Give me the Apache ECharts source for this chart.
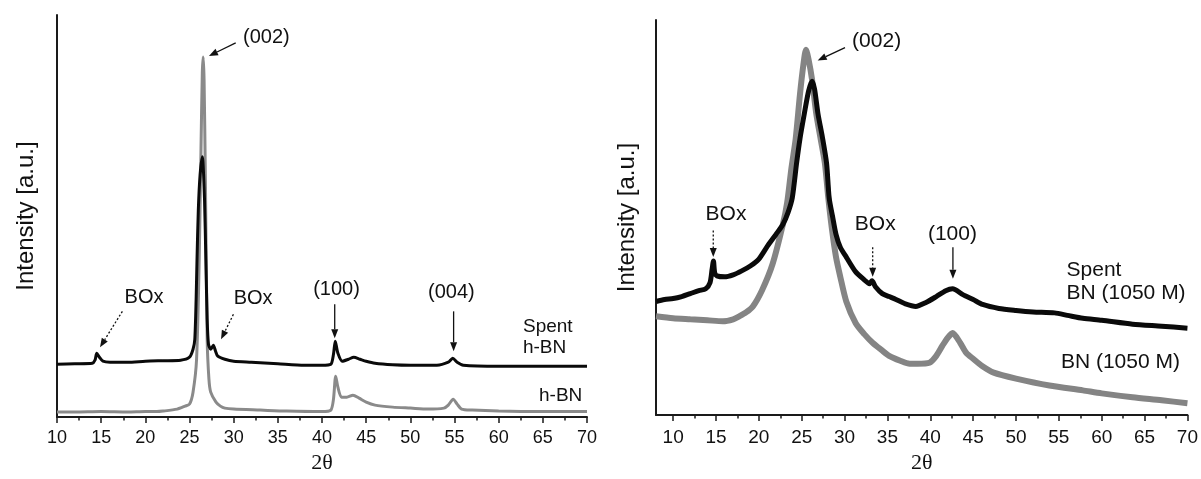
<!DOCTYPE html>
<html><head><meta charset="utf-8">
<script src="https://cdn.jsdelivr.net/npm/echarts@6/dist/echarts.min.js"></script>
<style>html,body{margin:0;padding:0;background:#fff}#c{width:1201px;height:479px}</style>
</head><body><div id="c"></div>
<script>
// ---------- Left panel: h-BN / Spent h-BN ----------
const hbnX = [10,12,15,18,20,21.3,22,23.6,24.5,25.0,25.4,25.8,26.1,26.3,26.45,26.55,26.65,26.8,27.0,27.2,27.4,28.0,28.5,29.0,30,33,36,40,41,41.3,41.55,41.8,42.2,42.8,43.5,44.2,45,46,48,50,52,53.8,54.3,54.85,55.3,55.8,57,60,65,70];
const hbnY = [5,5,5.5,5,5.5,5.5,6,8,11,13,25,58,158,268,345,361,338,238,78,38,25,15,11,9,8,7,6,5.5,7,18,41,30,20,20,22,19,15,12,10,9,8,9,12,18,13,8,7,6,5.5,5.5];
const spentHbnX = [10,12,14,14.3,14.5,14.8,15.2,16,18,20,22,24,25,25.4,25.6,25.75,25.85,26.0,26.2,26.45,26.7,26.85,27.0,27.15,27.4,27.7,27.95,28.2,29,30,32,35,38,40,41,41.3,41.5,41.8,42.3,43,43.6,44.3,45,46,48,50,53,54.3,54.8,55.3,56,60,65,70];
const spentHbnY = [53,53.5,54,57,64,60,56,55,55,56,56.5,57,60,68,78,118,158,208,243,261,218,158,98,73,68,72,66,61,58,56,55,53.5,52,52,53,63,76,64,56,58,60,58,56,54,52.5,52,52,55,59,55,52,51,51,51];

// ---------- Right panel: BN (1050 M) / Spent BN (1050 M) ----------
const bnX = [8,10,12,14,15.8,17,17.7,18.5,19.3,20.4,21.6,22.8,23.3,23.8,24.3,24.8,25.2,25.5,25.8,26.2,26.7,27.2,27.7,28.1,28.5,29.0,29.5,30.2,31.3,32.3,33.3,34.3,35.2,36.5,37.6,38.5,39.9,40.7,41.4,42.0,42.6,43.5,44.2,45.0,46,47.4,50,53.9,57.8,60,63.6,67,70];
const bnY = [100,98,97,96,95,97,100,104,110,127,153,193,215,250,280,325,355,370,360,340,305,280,255,220,190,160,140,115,93,82,73,66,60,55,52,52,53,60,70,78,83,73,63,57,50,43,37,30,25,22,18,15,12];
const spentBnX = [8,9,10,11,12,13,13.8,14.3,14.55,14.7,14.85,15.1,16,17,18,19,20,21,22,22.8,23.4,23.9,24.4,24.8,25.3,25.8,26.2,26.5,26.9,27.4,27.9,28.2,28.6,29.0,29.5,30.2,31.3,32.3,32.9,33.2,33.6,34.4,35.2,36.0,37.0,38.3,39.5,40.7,41.8,42.6,43.8,45.0,46.1,48,50,52,54.5,56,57.8,60,63.6,67,70];
const spentBnY = [115,117,118,120,123,126,128,134,148,156,144,141,140,142,146,151,158,171,183,193,205,220,255,280,305,328,338,330,305,282,255,220,201,183,170,160,145,137,133,136,130,123,120,117,113,110,114,120,126,128,122,117,112,108,106,104.5,103.5,101,98,96,92,90,88];

// ---------- Tick labels ----------
const majorTicks = [10,15,20,25,30,35,40,45,50,55,60,65,70];
const minorTicks = [12.5,17.5,22.5,27.5,32.5,37.5,42.5,47.5,52.5,57.5,62.5,67.5];

// ---------- Annotations (data coordinates) ----------
const leftTexts = [
  {t:'(002)', x:33.7, y:380}, {t:'BOx', x:19.85, y:120}, {t:'BOx', x:32.2, y:119},
  {t:'(100)', x:41.64, y:128}, {t:'(004)', x:54.65, y:125}
];
const leftArrows = [
  {from:[30.23,375], to:[27.2,362], dot:false}, {from:[17.4,106], to:[14.87,70], dot:true},
  {from:[29.97,103], to:[28.57,78], dot:true}, {from:[41.44,113], to:[41.44,79], dot:false},
  {from:[54.9,106], to:[54.9,66], dot:false}
];
const leftLegends = [{t:'Spent', x:62.75, y:91}, {t:'h-BN', x:62.75, y:69}, {t:'h-BN', x:64.57, y:21}];
const rightTexts = [
  {t:'(002)', x:33.74, y:379}, {t:'BOx', x:16.17, y:203}, {t:'BOx', x:33.58, y:193}, {t:'(100)', x:42.58, y:183}
];
const rightArrows = [
  {from:[30.05,372], to:[26.86,359], dot:false}, {from:[14.68,187], to:[14.68,160], dot:true},
  {from:[33.28,170], to:[33.28,140], dot:true}, {from:[42.64,170], to:[42.64,138], dot:false}
];
const rightLegends = [{t:'Spent', x:55.9, y:147}, {t:'BN (1050 M)', x:55.9, y:123}, {t:'BN (1050 M)', x:55.24, y:54}];

const zip = (a, b) => a.map((v, i) => [v, b[i]]);
const SANS = '"Liberation Sans", Arial, sans-serif';
const SERIF = '"Liberation Serif", "Times New Roman", serif';
const AX = '#1a1a1a';

function xAxisCfg(grid, min, fontSize, labelMargin) {
  return {
    type:'value', gridIndex:grid, min:min, max:70, position:'bottom',
    axisLine:{show:true, onZero:false, lineStyle:{color:AX, width:2}},
    axisTick:{show:true, length:6, lineStyle:{color:AX, width:1.5}, customValues:majorTicks},
    axisLabel:{fontSize:fontSize, color:'#111', fontFamily:SANS, margin:labelMargin, customValues:majorTicks},
    splitLine:{show:false},
    name:'2θ', nameLocation:'middle', nameGap:34,
    nameTextStyle:{fontFamily:SERIF, fontSize:22, color:'#111'}
  };
}
function minorAxisCfg(grid, min) {
  return {
    type:'value', gridIndex:grid, min:min, max:70, position:'bottom',
    axisLine:{show:false, onZero:false},
    axisTick:{show:true, length:3.5, lineStyle:{color:AX, width:1.5}, customValues:minorTicks},
    axisLabel:{show:false}, splitLine:{show:false}
  };
}
function yAxisCfg(grid, max, gap) {
  return {
    type:'value', gridIndex:grid, min:0, max:max,
    axisLine:{show:true, lineStyle:{color:AX, width:2}},
    axisTick:{show:false}, axisLabel:{show:false}, splitLine:{show:false},
    name:'Intensity [a.u.]', nameLocation:'middle', nameGap:gap, nameRotate:90,
    nameTextStyle:{fontFamily:SANS, fontSize:24, color:'#111'}
  };
}

const chart = echarts.init(document.getElementById('c'), null, {renderer:'canvas'});
const option = {
  animation:false,
  backgroundColor:'#fff',
  grid:[
    {left:57, top:15, width:530, height:403},
    {left:656, top:20, width:531.5, height:400}
  ],
  xAxis:[
    xAxisCfg(0, 10, 18, 12),
    xAxisCfg(1, 8, 19, 13),
    minorAxisCfg(0, 10),
    minorAxisCfg(1, 8)
  ],
  yAxis:[ yAxisCfg(0, 403, 19), yAxisCfg(1, 400, 17) ],
  series:[
    {name:'h-BN', type:'line', xAxisIndex:0, yAxisIndex:0, data:zip(hbnX, hbnY), showSymbol:false,
     smooth:0.25, lineStyle:{color:'#8a8a8a', width:3}},
    {name:'Spent h-BN', type:'line', xAxisIndex:0, yAxisIndex:0, data:zip(spentHbnX, spentHbnY), showSymbol:false,
     smooth:0.25, lineStyle:{color:'#0a0a0a', width:3}},
    {name:'BN (1050 M)', type:'line', xAxisIndex:1, yAxisIndex:1, data:zip(bnX, bnY), showSymbol:false,
     smooth:0.25, lineStyle:{color:'#848484', width:6}},
    {name:'Spent BN (1050 M)', type:'line', xAxisIndex:1, yAxisIndex:1, data:zip(spentBnX, spentBnY), showSymbol:false,
     smooth:0.25, lineStyle:{color:'#0a0a0a', width:5}}
  ]
};
chart.setOption(option);

function px(grid, p) { return chart.convertToPixel({gridIndex:grid}, p); }
const g = [];
function addText(grid, a, size, align) {
  const p = px(grid, [a.x, a.y]);
  g.push({type:'text', x:p[0], y:p[1], z:10,
    style:{text:a.t, fontSize:size, fontFamily:SANS, fill:'#111', align:align, verticalAlign:'middle'}});
}
function addArrow(grid, a) {
  const p1 = px(grid, a.from), p2 = px(grid, a.to);
  const dx = p2[0]-p1[0], dy = p2[1]-p1[1], L = Math.hypot(dx, dy), ux = dx/L, uy = dy/L;
  const hl = 9, hw = 3.5;
  const bx = p2[0]-ux*hl, by = p2[1]-uy*hl;
  g.push({type:'line', z:10, shape:{x1:p1[0], y1:p1[1], x2:bx, y2:by},
    style:{stroke:'#111', lineWidth:1.3, lineDash:a.dot ? [2,2] : null}});
  g.push({type:'polygon', z:10, shape:{points:[[p2[0],p2[1]],[bx-uy*hw, by+ux*hw],[bx+uy*hw, by-ux*hw]]},
    style:{fill:'#111'}});
}
leftTexts.forEach(a => addText(0, a, 20, 'center'));
leftLegends.forEach(a => addText(0, a, 19, 'left'));
leftArrows.forEach(a => addArrow(0, a));
rightTexts.forEach(a => addText(1, a, 21, 'center'));
rightLegends.forEach(a => addText(1, a, 21, 'left'));
rightArrows.forEach(a => addArrow(1, a));
chart.setOption({graphic:g});
</script>
</body></html>
